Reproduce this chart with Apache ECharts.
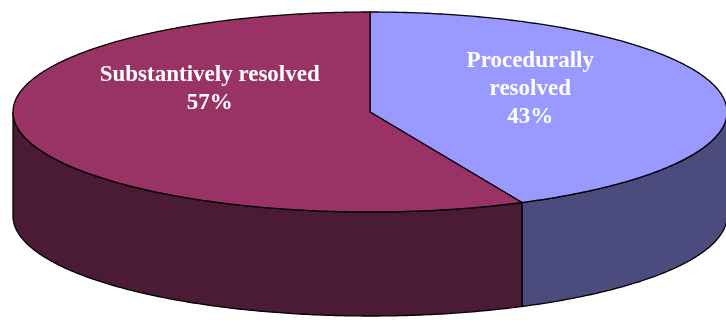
<!DOCTYPE html>
<html>
<head>
<meta charset="utf-8">
<script src="https://cdn.jsdelivr.net/npm/echarts@6/dist/echarts.min.js"></script>
<style>html,body{margin:0;padding:0;background:#fff}#c{width:726px;height:320px}</style>
</head>
<body>
<div id="c"></div>
<script>
// ---- data ----
const categories = ['Procedurally resolved', 'Substantively resolved'];
const values = [43, 57];
const labelTexts = ['Procedurally\nresolved', 'Substantively resolved'];

// ---- styles ----
const topColors = ['#9999FF', '#993366'];
const sideColors = ['#4B4B7E', '#4B1A34'];

const chart = echarts.init(document.getElementById('c'), null, {renderer: 'canvas'});
const total = values.reduce((a, b) => a + b, 0);

function geom() {
  return {cx: 370, cy: 112, rx: 357, ry: 100, depth: 104};
}
function angles(i) {
  let s = 0;
  for (let k = 0; k < i; k++) s += values[k];
  return [s / total * 2 * Math.PI, (s + values[i]) / total * 2 * Math.PI];
}
function pt(g, th, dy) {
  return [g.cx + g.rx * Math.sin(th), g.cy - g.ry * Math.cos(th) + (dy || 0)];
}
function arc(g, a0, a1, dy) {
  const n = Math.max(2, Math.ceil(Math.abs(a1 - a0) / 0.01));
  const pts = [];
  for (let j = 0; j <= n; j++) pts.push(pt(g, a0 + (a1 - a0) * j / n, dy));
  return pts;
}

function renderSide(params, api) {
  const g = geom();
  const i = params.dataIndex;
  const [a0, a1] = angles(i);
  const s = Math.max(a0, Math.PI / 2), e = Math.min(a1, Math.PI * 1.5);
  if (e <= s) return {type: 'group', children: []};
  const topArc = arc(g, s, e, 0);
  const botArc = arc(g, e, s, g.depth);
  return {
    type: 'polygon',
    shape: {points: topArc.concat(botArc)},
    style: {fill: sideColors[i], stroke: '#000', lineWidth: 1.3}
  };
}

function renderTop(params, api) {
  const g = geom();
  const i = params.dataIndex;
  const [a0, a1] = angles(i);
  const pts = [[g.cx, g.cy]].concat(arc(g, a0, a1, 0));
  const mid = (a0 + a1) / 2;
  const pct = Math.round(api.value(0) / total * 100) + '%';
  return {
    type: 'group',
    children: [
      {
        type: 'polygon',
        shape: {points: pts},
        style: {fill: topColors[i], stroke: '#000', lineWidth: 1.3}
      },
      {
        type: 'text',
        z2: 10,
        style: {
          text: labelTexts[i] + '\n' + pct,
          x: g.cx + 0.46 * g.rx * Math.sin(mid),
          y: g.cy - 23,
          fill: '#fff',
          fontFamily: '"Liberation Serif", "DejaVu Serif", serif',
          fontWeight: 'bold',
          fontSize: 23,
          lineHeight: 28,
          align: 'center',
          verticalAlign: 'middle'
        }
      }
    ]
  };
}

chart.setOption({
  animation: false,
  series: [
    {type: 'custom', coordinateSystem: 'none', renderItem: renderSide, data: values.map((v, i) => ({name: categories[i], value: [v]})), z: 1},
    {type: 'custom', coordinateSystem: 'none', renderItem: renderTop, data: values.map((v, i) => ({name: categories[i], value: [v]})), z: 2}
  ]
});
</script>
</body>
</html>
